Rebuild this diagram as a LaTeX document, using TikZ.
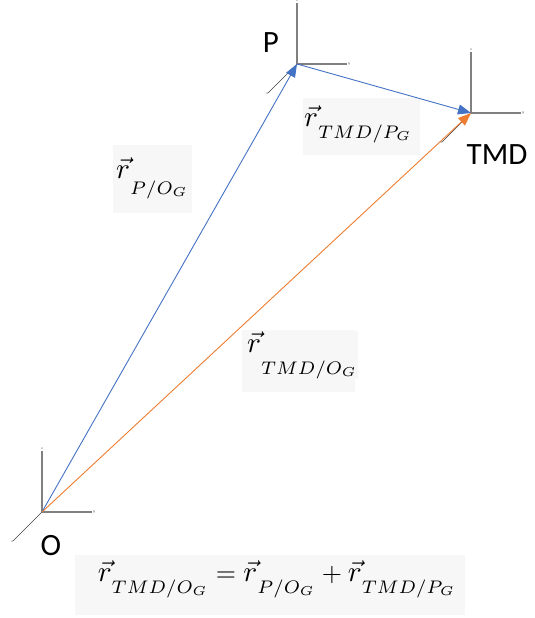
\documentclass[tikz,border=0pt]{standalone}
\usepackage{fontspec}
\newfontfamily\labfont{Carlito}
\usetikzlibrary{arrows.meta,calc}
\definecolor{oblue}{HTML}{4472C4}
\definecolor{oorange}{HTML}{ED7D31}
\definecolor{boxbg}{HTML}{F7F7F7}
\definecolor{axz}{HTML}{808080}
\definecolor{axx}{HTML}{404040}
\newcommand{\dsub}[2]{_{\raisebox{-#1}{$\scriptstyle #2$}}}
\newcommand{\vr}{\mathord{\scalebox{1.12}{$\vec{r}$}}}
\newcommand{\scaledmath}[1]{\scalebox{2.6}{$#1$}}
\tikzset{
  zaxis/.style={draw=axz, line width=1.1pt},
  yaxis/.style={draw=axz, line width=1.4pt},
  xaxis/.style={draw=axx, line width=0.7pt},
  tiny/.style={font=\fontsize{4}{4}\selectfont, text=axx, inner sep=0.5pt},
  vecb/.style={draw=oblue, line width=0.9pt, -{Triangle[length=13pt,width=10pt]}, oblue},
  veco/.style={draw=oorange, line width=0.9pt, -{Triangle[length=13pt,width=10pt]}, oorange},
  ptlabel/.style={font=\labfont\fontsize{31}{36}\selectfont, inner sep=0pt},
  mbox/.style={fill=boxbg, inner sep=0pt},
}
\begin{document}
\begin{tikzpicture}[x=1pt,y=1pt]
\useasboundingbox (0,0) rectangle (535,618);
% frame origins
\coordinate (O) at (42,106);
\coordinate (P) at (297,554);
\coordinate (T) at (471,505);
% axes
\foreach \f in {O,P,T}{
  \draw[zaxis] (\f) -- ++(0,61) coordinate (\f z);
  \draw[yaxis] (\f) -- ++(50,0) coordinate (\f y);
  \draw[xaxis] (\f) -- ++(-29,-29) coordinate (\f x);
  \node[tiny] at ($(\f z)+(0,2)$) {\textit{z}};
  \node[tiny] at ($(\f y)+(2,0)$) {\textit{y}};
  \node[tiny] at ($(\f x)+(-1,-1)$) {\textit{x}};
}
% label boxes
\node[mbox, minimum width=79pt, minimum height=68pt] (b1) at (152.5,439) {};
\node[mbox, anchor=west] (t1) at (116,440) {\scaledmath{\vr\dsub{4.6pt}{P/O_G}}};
\node[mbox, minimum width=117pt, minimum height=57pt] (b2) at (361.5,491.5) {};
\node[mbox, anchor=west] (t2) at (304,494) {\scaledmath{\vr\dsub{3.1pt}{TMD/P_G}}};
\node[mbox, minimum width=113pt, minimum height=62pt] (b3) at (298.5,257) {};
\node[mbox, anchor=west] (t3) at (247,263) {\scaledmath{\vr\dsub{6.9pt}{TMD/O_G}}};
\node[mbox, minimum width=390pt, minimum height=60pt] (eq) at (270,33) {};
\node[mbox] (t4) at (277,39) {\scaledmath{\vr\dsub{3.1pt}{TMD/O_G} = \vr\dsub{3.1pt}{P/O_G} + \vr\dsub{3.1pt}{TMD/P_G}}};
% vectors
\draw[vecb] (O) -- (P);
\draw[vecb] (P) -- (T);
\draw[veco] (O) -- (T);
% point labels
\node[ptlabel] (Pl) at (271,575) {P};
\node[ptlabel] (Tl) at (497,463) {TMD};
\node[ptlabel] (Ol) at (51,72) {O};
\end{tikzpicture}
\end{document}
